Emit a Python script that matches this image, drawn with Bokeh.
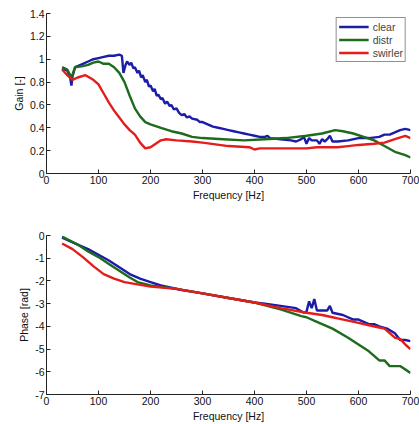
from bokeh.plotting import figure
from bokeh.layouts import column
from bokeh.models import FixedTicker, CustomJSTickFormatter, Legend, LegendItem
from bokeh.embed import file_html
from bokeh.resources import INLINE

# ---- Gain data ----
gain_clear_f = [30, 40, 45, 48, 50, 55, 60, 70, 80, 90, 100, 110, 120, 130, 140, 145, 148, 152, 155, 160, 163, 167,
                170, 175, 178, 182, 185, 190, 193, 197, 200, 205, 208, 212, 215, 220, 223, 228, 232, 237, 240, 245,
                250, 255, 260, 265, 270, 275, 280, 290, 295, 300, 310, 320, 330, 340, 350, 360, 370, 380, 390, 400,
                410, 420, 425, 430, 450, 470, 480, 490, 495, 500, 505, 510, 520, 525, 530, 535, 540, 545, 550, 560,
                580, 600, 620, 640, 650, 660, 670, 680, 690, 700]
gain_clear = [0.92, 0.90, 0.85, 0.77, 0.85, 0.93, 0.94, 0.96, 0.98, 1.00, 1.01, 1.02, 1.03, 1.03, 1.04, 1.03, 0.88, 0.95,
              0.98, 0.95, 0.97, 0.92, 0.93, 0.88, 0.90, 0.84, 0.86, 0.80, 0.82, 0.76, 0.77, 0.72, 0.74, 0.68, 0.69,
              0.65, 0.66, 0.61, 0.63, 0.59, 0.60, 0.56, 0.57, 0.53, 0.51, 0.52, 0.49, 0.50, 0.48, 0.47, 0.45, 0.45,
              0.43, 0.41, 0.40, 0.39, 0.38, 0.37, 0.36, 0.35, 0.34, 0.33, 0.32, 0.32, 0.33, 0.31, 0.30, 0.29, 0.28,
              0.30, 0.32, 0.26, 0.31, 0.29, 0.29, 0.26, 0.30, 0.28, 0.30, 0.33, 0.28, 0.28, 0.29, 0.31, 0.31, 0.32,
              0.34, 0.34, 0.36, 0.38, 0.39, 0.38]

gain_distr_f = [30, 40, 48, 55, 70, 80, 90, 100, 110, 120, 130, 140, 150, 160, 170, 180, 190, 200, 220, 240, 260, 280,
                300, 340, 380, 420, 460, 500, 530, 555, 570, 590, 610, 630, 650, 670, 690, 700]
gain_distr = [0.93, 0.91, 0.84, 0.93, 0.94, 0.95, 0.97, 0.98, 0.96, 0.96, 0.93, 0.88, 0.80, 0.68, 0.57, 0.50, 0.45,
              0.43, 0.40, 0.37, 0.35, 0.32, 0.31, 0.30, 0.29, 0.30, 0.31, 0.33, 0.35, 0.38, 0.37, 0.35, 0.32, 0.29,
              0.24, 0.19, 0.16, 0.14]

gain_swirl_f = [30, 40, 50, 60, 75, 90, 100, 110, 120, 130, 140, 150, 160, 170, 180, 190, 200, 210, 220, 230, 250, 280,
                300, 350, 390, 400, 410, 450, 500, 520, 560, 580, 600, 630, 650, 670, 690, 700]
gain_swirl = [0.91, 0.86, 0.82, 0.84, 0.86, 0.82, 0.78, 0.70, 0.62, 0.55, 0.49, 0.43, 0.38, 0.34, 0.27, 0.22, 0.23,
              0.26, 0.29, 0.30, 0.29, 0.28, 0.27, 0.24, 0.23, 0.21, 0.22, 0.22, 0.22, 0.23, 0.23, 0.24, 0.25, 0.26,
              0.27, 0.30, 0.33, 0.31]

# ---- Phase data ----
phase_clear_f = [30, 60, 80, 100, 120, 140, 160, 180, 200, 220, 240, 260, 300, 350, 400, 420, 450, 480, 495, 500, 505,
                 510, 515, 520, 530, 540, 545, 550, 570, 590, 600, 620, 630, 640, 655, 670, 680, 690, 700]
phase_clear = [-0.1, -0.4, -0.6, -0.85, -1.1, -1.4, -1.7, -1.9, -2.05, -2.2, -2.3, -2.4, -2.55, -2.75, -2.95, -3.0,
               -3.1, -3.2, -3.4, -3.35, -2.9, -3.2, -2.8, -3.3, -3.3, -3.3, -3.1, -3.4, -3.5, -3.7, -3.7, -3.9, -3.9,
               -4.0, -4.1, -4.3, -4.6, -4.6, -4.65]

phase_distr_f = [30, 60, 80, 100, 120, 140, 160, 175, 200, 250, 300, 350, 400, 450, 490, 500, 520, 550, 580, 600, 620,
                 640, 650, 660, 680, 700]
phase_distr = [-0.05, -0.4, -0.7, -0.95, -1.25, -1.55, -1.85, -2.05, -2.2, -2.35, -2.55, -2.75, -2.95, -3.25, -3.55,
               -3.6, -3.8, -4.1, -4.5, -4.8, -5.1, -5.5, -5.5, -5.75, -5.75, -6.05]

phase_swirl_f = [30, 50, 70, 90, 110, 130, 150, 175, 200, 250, 300, 350, 400, 450, 500, 530, 550, 560, 580, 600, 620,
                 640, 650, 670, 680, 690, 700]
phase_swirl = [-0.35, -0.6, -0.95, -1.35, -1.7, -1.9, -2.05, -2.15, -2.25, -2.35, -2.55, -2.75, -2.95, -3.2, -3.4,
               -3.5, -3.6, -3.65, -3.75, -3.85, -3.95, -4.05, -4.1, -4.5, -4.55, -4.8, -5.0]

names = ["clear", "distr", "swirler"]
colors = ["#1c1ca8", "#1d6b1d", "#e41c1c"]
x_ticks = [0, 100, 200, 300, 400, 500, 600, 700]
gain_ticks = [0, 0.2, 0.4, 0.6, 0.8, 1.0, 1.2, 1.4]
phase_ticks = [-7, -6, -5, -4, -3, -2, -1, 0]

FONT = "Liberation Sans"
FS = "10.5px"


def style(p, yticks, ylabel):
    p.xaxis.ticker = FixedTicker(ticks=x_ticks)
    p.yaxis.ticker = FixedTicker(ticks=yticks)
    p.yaxis.formatter = CustomJSTickFormatter(code="return String(Math.round(tick*10)/10);")
    p.xaxis.axis_label = "Frequency [Hz]"
    p.yaxis.axis_label = ylabel
    p.xgrid.visible = False
    p.ygrid.visible = False
    p.outline_line_color = None
    for ax in (p.xaxis[0], p.yaxis[0]):
        ax.major_tick_in = 4
        ax.major_tick_out = 0
        ax.minor_tick_in = 0
        ax.minor_tick_out = 0
        ax.axis_line_color = "#222222"
        ax.major_tick_line_color = "#222222"
        ax.major_label_text_font = FONT
        ax.major_label_text_font_size = FS
        ax.major_label_text_color = "#111111"
        ax.axis_label_text_font = FONT
        ax.axis_label_text_font_size = FS
        ax.axis_label_text_font_style = "normal"
        ax.axis_label_text_color = "#111111"
        ax.major_label_standoff = 2
        ax.axis_label_standoff = 2


p1 = figure(width=419, height=212, x_range=(0, 700), y_range=(0, 1.4), output_backend="svg",
            toolbar_location=None, min_border_left=46, min_border_right=9, min_border_top=13,
            min_border_bottom=39)
style(p1, gain_ticks, "Gain [-]")
r1 = p1.line(gain_clear_f, gain_clear, line_color=colors[0], line_width=2.4)
r2 = p1.line(gain_distr_f, gain_distr, line_color=colors[1], line_width=2.4)
r3 = p1.line(gain_swirl_f, gain_swirl, line_color=colors[2], line_width=2.4)
legend = Legend(items=[LegendItem(label=names[0], renderers=[r1]),
                       LegendItem(label=names[1], renderers=[r2]),
                       LegendItem(label=names[2], renderers=[r3])],
                location="top_right")
legend.label_text_font = FONT
legend.label_text_font_size = FS
legend.border_line_color = "#222222"
legend.border_line_width = 1
legend.padding = 2
legend.spacing = 0
legend.margin = 4
legend.glyph_width = 30
legend.glyph_height = 13
legend.label_height = 13
legend.label_standoff = 4
p1.add_layout(legend, "center")

p2 = figure(width=419, height=212, x_range=(0, 700), y_range=(-7, 0), output_backend="svg",
            toolbar_location=None, min_border_left=46, min_border_right=9, min_border_top=23,
            min_border_bottom=29)
style(p2, phase_ticks, "Phase [rad]")
p2.line(phase_clear_f, phase_clear, line_color=colors[0], line_width=2.4)
p2.line(phase_distr_f, phase_distr, line_color=colors[1], line_width=2.4)
p2.line(phase_swirl_f, phase_swirl, line_color=colors[2], line_width=2.4)

layout = column(p1, p2, spacing=0)
open("out.html", "w").write(file_html(layout, INLINE))
